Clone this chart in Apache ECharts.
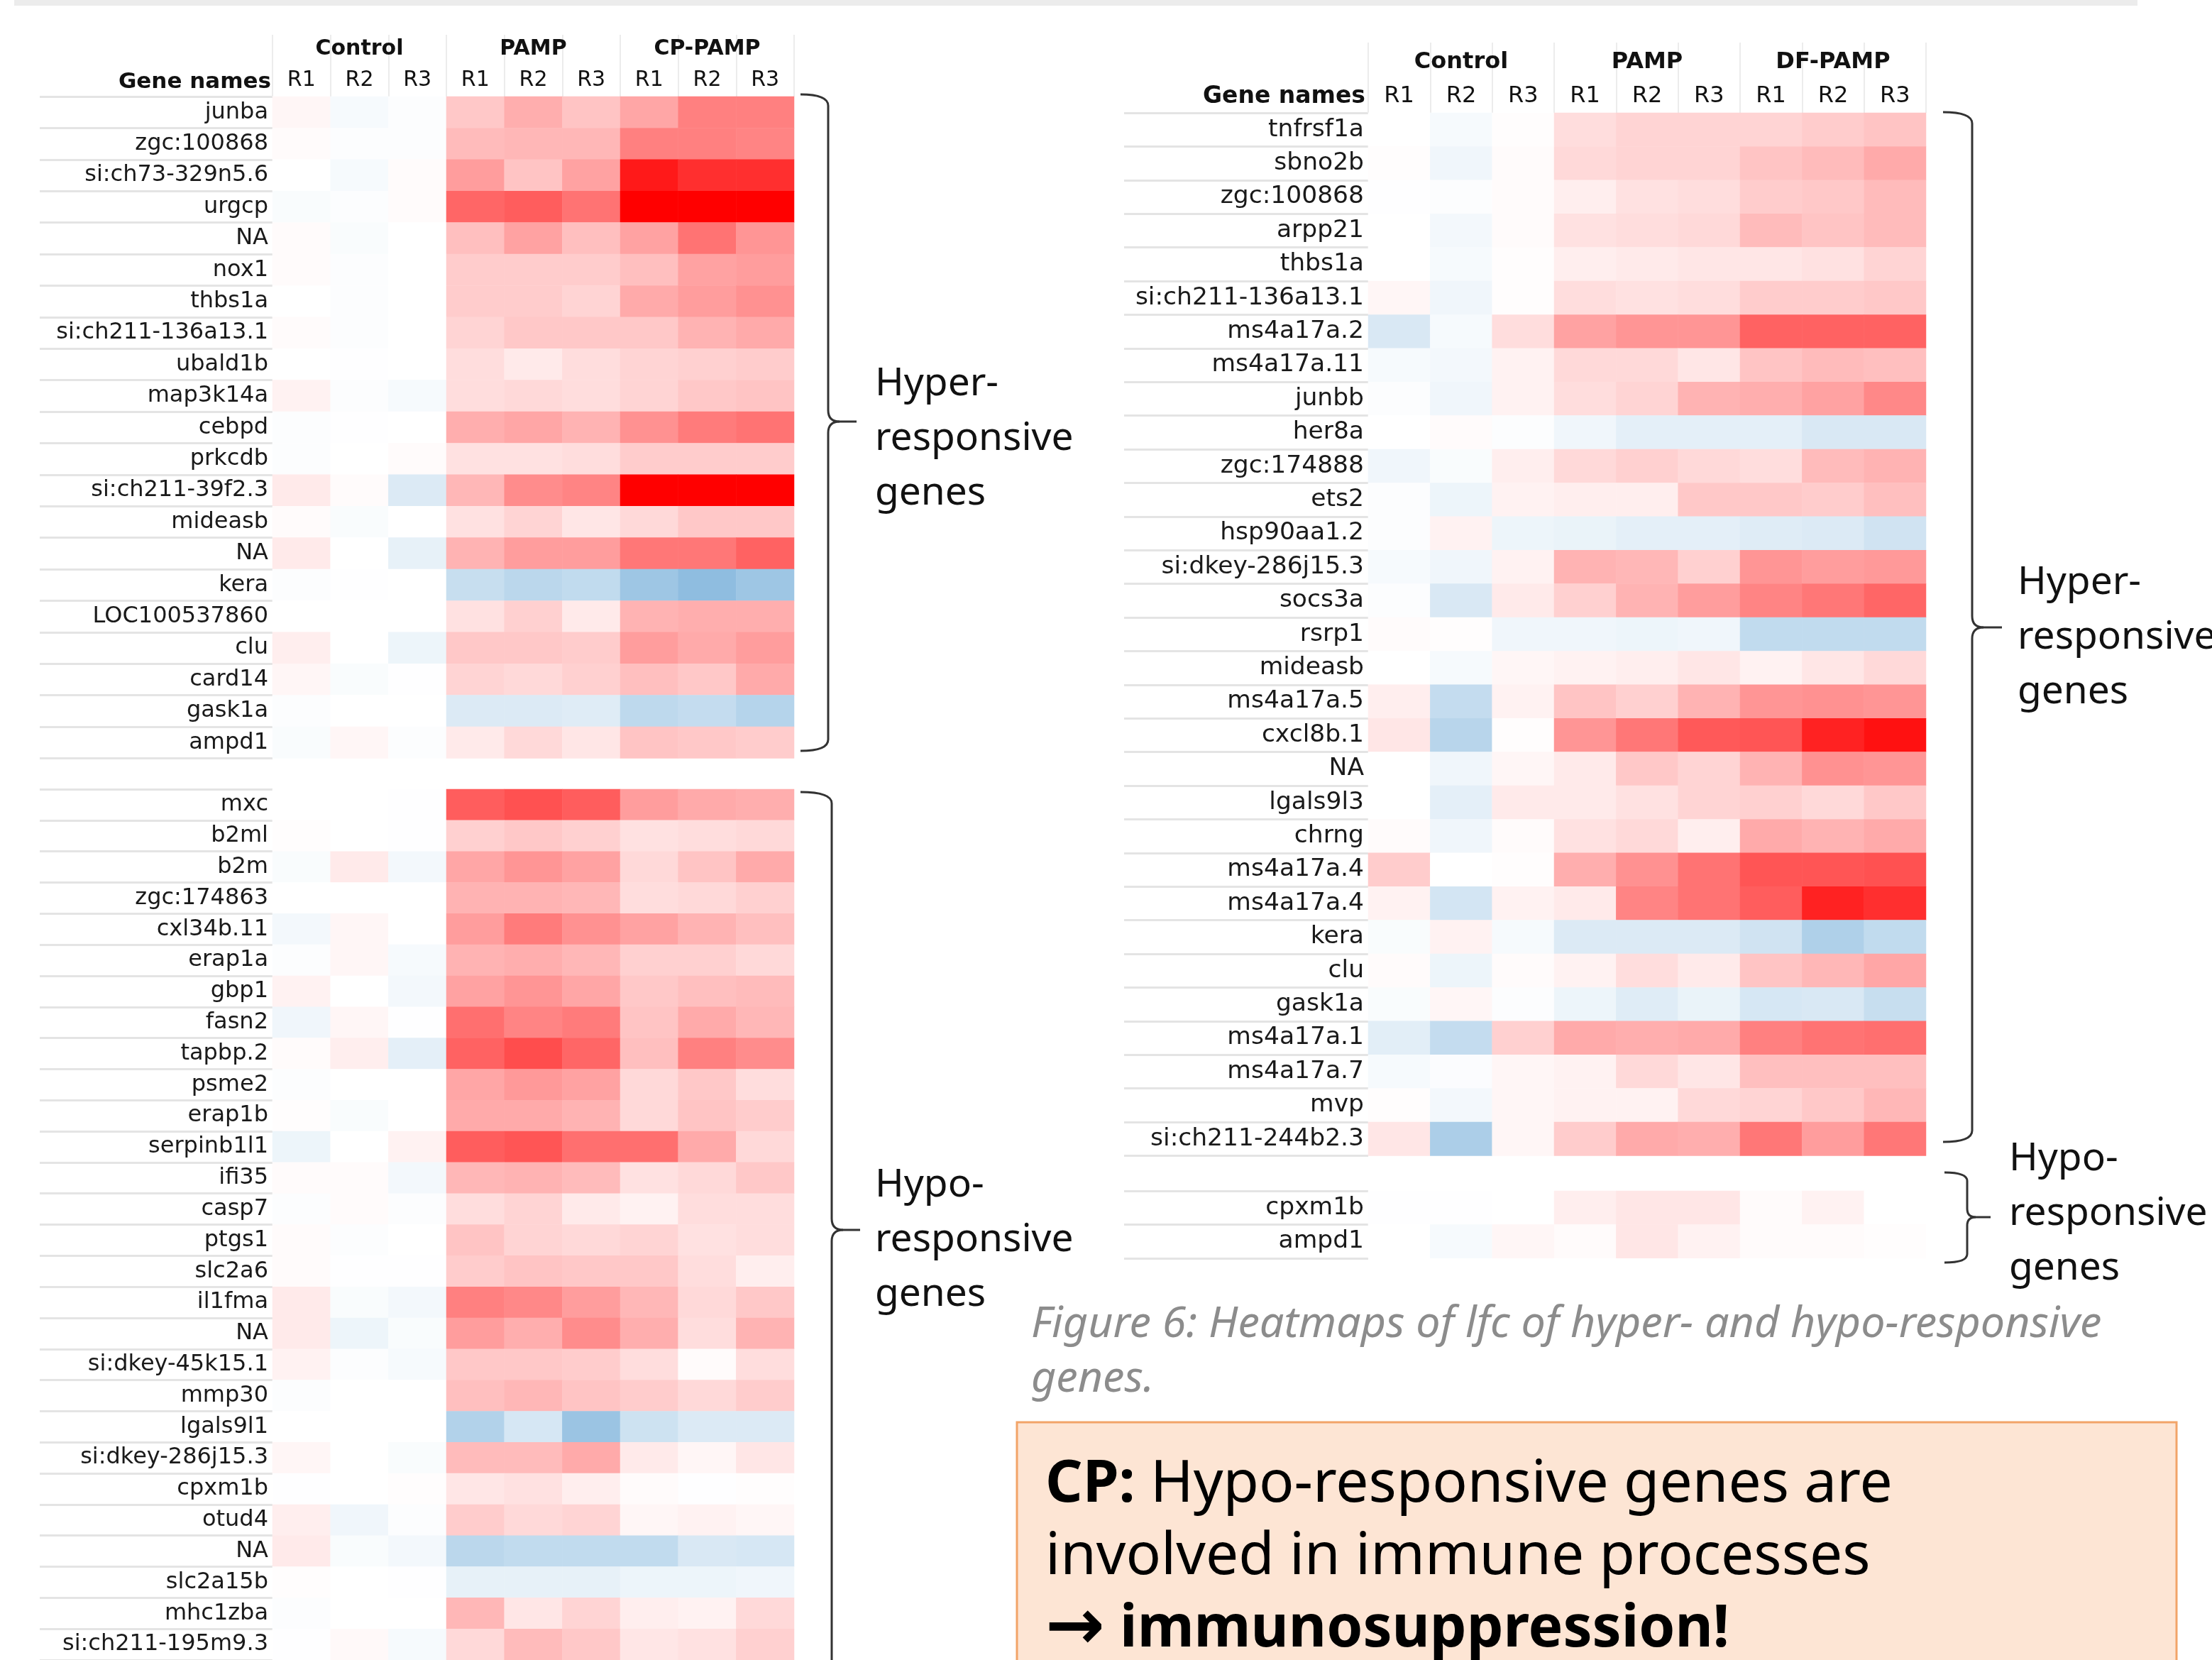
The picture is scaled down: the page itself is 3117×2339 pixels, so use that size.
<!DOCTYPE html>
<html>
<head>
<meta charset="utf-8">
<title>Heatmaps of lfc</title>
<script src="https://cdn.jsdelivr.net/npm/echarts@6/dist/echarts.min.js"></script>
<style>
html,body{margin:0;padding:0;background:#fff;}
#chart{width:3117px;height:2339px;}
</style>
</head>
<body>
<div id="chart"></div>
<script>
// column labels
const reps = ['R1','R2','R3','R1','R2','R3','R1','R2','R3'];
const groupsLeft = ['Control','PAMP','CP-PAMP'];
const groupsRight = ['Control','PAMP','DF-PAMP'];

// left heatmap (CP), hyper-responsive genes, lfc per column
const leftHyperGenes = ['junba','zgc:100868','si:ch73-329n5.6','urgcp','NA','nox1','thbs1a','si:ch211-136a13.1','ubald1b','map3k14a','cebpd','prkcdb','si:ch211-39f2.3','mideasb','NA','kera','LOC100537860','clu','card14','gask1a','ampd1'];
const leftHyperLfc = [
  [0.2,-0.3,-0.1, 1.3,1.9,1.4, 2.1,3.0,3.0],
  [0.1,-0.1,-0.1, 1.6,1.7,1.7, 3.0,3.0,2.9],
  [0.0,-0.3,0.1, 2.3,1.4,2.2, 5.4,4.9,4.9],
  [-0.2,-0.1,0.1, 3.6,3.8,3.3, 6.0,6.0,6.0],
  [0.1,-0.2,0.0, 1.5,2.2,1.5, 2.2,3.3,2.5],
  [0.1,-0.1,0.0, 1.2,1.2,1.2, 1.5,2.2,2.3],
  [0.0,-0.1,0.0, 1.2,1.2,1.0, 2.0,2.3,2.6],
  [0.1,-0.1,0.0, 1.0,1.3,1.3, 1.3,1.8,2.0],
  [0.0,-0.05,0.0, 0.8,0.5,0.8, 1.0,1.1,1.2],
  [0.3,-0.1,-0.3, 0.8,0.9,0.8, 1.0,1.3,1.4],
  [-0.1,-0.05,0.0, 1.9,2.1,1.8, 2.6,3.1,3.3],
  [-0.1,0.0,0.1, 0.7,0.7,0.8, 1.2,1.2,1.2],
  [0.5,0.1,-1.2, 1.7,2.7,2.9, 6.0,6.0,6.0],
  [0.1,-0.2,0.0, 0.7,1.0,0.6, 0.9,1.3,1.3],
  [0.5,0.0,-0.8, 1.8,2.3,2.3, 3.2,3.2,3.7],
  [-0.1,-0.05,0.0, -1.9,-2.3,-2.1, -3.3,-3.8,-3.3],
  [0.0,0.0,0.0, 0.7,1.1,0.5, 1.8,1.9,1.9],
  [0.4,0.0,-0.6, 1.3,1.3,1.2, 2.3,2.0,2.3],
  [0.2,-0.2,-0.05, 1.0,0.9,1.1, 1.5,1.3,2.0],
  [-0.1,0.0,0.0, -1.2,-1.2,-1.1, -2.2,-2.0,-2.5],
  [-0.2,0.2,-0.1, 0.5,0.9,0.6, 1.4,1.3,1.2]
];

// left heatmap (CP), hypo-responsive genes
const leftHypoGenes = ['mxc','b2ml','b2m','zgc:174863','cxl34b.11','erap1a','gbp1','fasn2','tapbp.2','psme2','erap1b','serpinb1l1','ifi35','casp7','ptgs1','slc2a6','il1fma','NA','si:dkey-45k15.1','mmp30','lgals9l1','si:dkey-286j15.3','cpxm1b','otud4','NA','slc2a15b','mhc1zba','si:ch211-195m9.3'];
const leftHypoLfc = [
  [0.0,0.0,-0.05, 3.8,4.1,3.8, 2.3,2.0,1.9],
  [0.05,0.0,-0.05, 1.1,1.3,1.1, 0.7,0.8,0.9],
  [-0.2,0.5,-0.4, 2.1,2.5,2.2, 0.9,1.4,2.0],
  [0.0,0.0,0.0, 1.8,1.8,1.7, 0.8,0.9,1.1],
  [-0.4,0.2,0.0, 2.3,3.1,2.6, 2.2,1.8,1.5],
  [-0.1,0.2,-0.3, 1.8,1.9,1.7, 1.1,1.1,0.9],
  [0.3,0.0,-0.4, 2.2,2.5,2.1, 1.3,1.5,1.6],
  [-0.5,0.2,-0.05, 3.4,2.9,3.1, 1.4,2.0,1.7],
  [0.1,0.4,-0.9, 3.7,4.2,3.6, 1.5,3.0,2.7],
  [-0.1,0.0,0.0, 2.1,2.4,2.2, 0.9,1.3,0.8],
  [0.05,-0.2,0.0, 2.0,2.0,1.8, 0.9,1.4,1.2],
  [-0.6,0.0,0.3, 3.8,4.0,3.4, 3.4,2.0,0.9],
  [0.1,0.1,-0.4, 1.7,1.8,1.6, 0.7,0.9,1.3],
  [-0.1,0.1,-0.1, 0.8,1.0,0.5, 0.3,0.8,0.8],
  [0.1,-0.1,0.0, 1.4,1.0,0.9, 1.0,0.7,0.8],
  [0.1,-0.05,-0.05, 1.2,1.4,1.3, 1.3,0.8,0.4],
  [0.5,-0.2,-0.4, 3.0,2.8,2.3, 1.7,0.9,1.3],
  [0.5,-0.6,-0.2, 2.3,1.9,2.7, 1.9,0.8,1.8],
  [0.3,-0.1,-0.3, 1.3,1.3,1.2, 0.8,0.1,0.8],
  [-0.1,0.0,0.0, 1.5,1.7,1.4, 1.2,0.9,1.2],
  [0.0,0.0,0.0, -2.6,-1.4,-3.4, -1.7,-1.2,-1.2],
  [0.2,0.0,-0.2, 1.6,1.6,2.0, 0.5,0.2,0.6],
  [-0.05,0.0,0.05, 0.6,0.7,0.4, 0.1,-0.05,0.05],
  [0.4,-0.5,-0.1, 1.2,0.9,1.0, 0.2,0.3,0.2],
  [0.5,-0.2,-0.4, -2.3,-2.1,-2.1, -2.1,-1.3,-1.4],
  [0.05,0.0,-0.05, -0.8,-0.8,-0.8, -0.6,-0.6,-0.5],
  [-0.1,0.0,0.0, 1.7,0.6,1.0, 0.4,0.3,0.9],
  [-0.05,0.15,-0.3, 0.9,1.6,1.3, 0.6,0.7,1.1]
];

// right heatmap (DF), hyper-responsive genes
const rightHyperGenes = ['tnfrsf1a','sbno2b','zgc:100868','arpp21','thbs1a','si:ch211-136a13.1','ms4a17a.2','ms4a17a.11','junbb','her8a','zgc:174888','ets2','hsp90aa1.2','si:dkey-286j15.3','socs3a','rsrp1','mideasb','ms4a17a.5','cxcl8b.1','NA','lgals9l3','chrng','ms4a17a.4','ms4a17a.4','kera','clu','gask1a','ms4a17a.1','ms4a17a.7','mvp','si:ch211-244b2.3'];
const rightHyperLfc = [
  [0.0,-0.3,0.05, 0.8,1.0,1.0, 1.0,1.2,1.4],
  [0.05,-0.5,0.1, 0.9,1.0,1.0, 1.4,1.6,2.0],
  [-0.05,-0.1,0.1, 0.4,0.7,0.8, 1.2,1.3,1.6],
  [0.0,-0.4,0.1, 0.7,0.8,0.9, 1.6,1.4,1.6],
  [0.0,-0.3,0.05, 0.4,0.5,0.6, 0.6,0.7,1.0],
  [0.2,-0.5,0.05, 0.8,0.7,0.8, 1.2,1.2,1.3],
  [-1.3,-0.3,0.8, 2.2,2.5,2.5, 3.7,3.7,3.7],
  [-0.3,-0.4,0.3, 0.9,0.9,0.6, 1.4,1.6,1.5],
  [-0.1,-0.5,0.3, 0.8,1.0,1.8, 1.9,2.2,2.8],
  [0.0,0.1,-0.1, -0.5,-0.9,-0.9, -0.9,-1.3,-1.3],
  [-0.5,-0.2,0.4, 0.9,1.1,0.9, 0.8,1.6,1.8],
  [-0.1,-0.6,0.3, 0.4,0.4,1.3, 1.3,1.2,1.5],
  [-0.1,0.3,-0.6, -0.7,-0.9,-0.9, -1.1,-1.2,-1.6],
  [-0.3,-0.5,0.3, 1.8,1.7,1.1, 2.5,2.3,2.4],
  [-0.1,-1.3,0.5, 1.1,1.8,2.3, 2.9,3.2,3.6],
  [0.1,0.05,-0.5, -0.5,-0.6,-0.5, -2.1,-2.1,-2.1],
  [0.0,-0.3,0.2, 0.3,0.4,0.6, 0.3,0.6,0.9],
  [0.4,-2.0,0.3, 1.4,1.1,1.8, 2.5,2.6,2.5],
  [0.6,-2.4,0.05, 2.5,3.2,3.9, 4.0,5.2,5.6],
  [0.0,-0.5,0.2, 0.5,1.3,1.0, 1.8,2.6,2.5],
  [0.0,-0.9,0.5, 0.5,0.7,1.0, 1.1,0.9,1.3],
  [0.1,-0.5,0.1, 0.7,0.9,0.4, 2.0,1.8,2.0],
  [1.2,0.0,0.05, 1.9,2.6,3.3, 4.0,4.0,4.1],
  [0.3,-1.5,0.3, 0.5,2.9,3.3, 3.8,5.2,4.9],
  [-0.2,0.3,-0.3, -1.2,-1.2,-1.2, -1.6,-2.7,-2.1],
  [0.1,-0.6,0.1, 0.3,0.8,0.5, 1.4,1.7,2.1],
  [-0.2,0.2,-0.1, -0.6,-1.1,-0.7, -1.4,-1.3,-1.9],
  [-1.0,-2.0,1.1, 2.0,1.9,2.0, 3.0,3.3,3.4],
  [-0.3,-0.15,0.2, 0.3,0.9,0.6, 1.5,1.5,1.5],
  [0.05,-0.4,0.2, 0.3,0.3,0.9, 1.0,1.3,1.7],
  [0.6,-2.8,0.2, 1.2,2.0,1.9, 3.2,2.3,3.2]
];

// right heatmap (DF), hypo-responsive genes
const rightHypoGenes = ['cpxm1b','ampd1'];
const rightHypoLfc = [
  [-0.05,-0.05,0.0, 0.4,0.6,0.6, 0.1,0.3,0.0],
  [0.0,-0.3,0.2, 0.1,0.6,0.3, 0.1,0.1,0.05]
];

// layout of the two panels (px)
const leftPanel = {labelLeft: 56, cellLeft: 384, cellWidth: 735, headTop: 49, hyperTop: 136, hyperRow: 44.4,
  hypoTop: 1112, hypoRow: 44.3, geneFont: 32, headFont: 30, repMargin: 8, groupOffset: 44};
const rightPanel = {labelLeft: 1584, cellLeft: 1928, cellWidth: 786, headTop: 60, hyperTop: 159, hyperRow: 47.4,
  hypoTop: 1678, hypoRow: 47.4, geneFont: 34.5, headFont: 32, repMargin: 7, groupOffset: 48};

const grid = [], xAxis = [], yAxis = [], series = [];

function cells(matrix) {
  const out = [];
  matrix.forEach((row, y) => row.forEach((v, x) => out.push([x, y, v])));
  return out;
}

function addBlock(P, top, rowH, genes, lfc, groups) {
  // grid with the row separator lines left of the cells
  grid.push({left: P.labelLeft, top: top, width: P.cellLeft - P.labelLeft, height: rowH * genes.length});
  xAxis.push({gridIndex: grid.length - 1, type: 'value', show: false});
  yAxis.push({gridIndex: grid.length - 1, type: 'category', data: genes, inverse: true,
    axisLine: {show: false}, axisTick: {show: false}, axisLabel: {show: false},
    splitLine: {show: true, interval: 0, lineStyle: {color: '#e4e4e4', width: 3}}});

  // cells
  grid.push({left: P.cellLeft, top: top, width: P.cellWidth, height: rowH * genes.length});
  const gi = grid.length - 1;
  const xi = xAxis.length;
  xAxis.push({gridIndex: gi, type: 'category', data: reps, position: 'top', show: !!groups,
    axisLine: {show: false}, axisTick: {show: false},
    axisLabel: {interval: 0, margin: P.repMargin, fontFamily: 'DejaVu Sans', fontSize: P.headFont, color: '#111'}});
  if (groups) {
    xAxis.push({gridIndex: gi, type: 'category', data: groups, position: 'top', offset: P.groupOffset,
      axisLine: {show: false}, axisTick: {show: false},
      axisLabel: {interval: 0, margin: P.repMargin, fontFamily: 'DejaVu Sans', fontWeight: 'bold', fontSize: P.headFont, color: '#111'}});
  }
  const yi = yAxis.length;
  yAxis.push({gridIndex: gi, type: 'category', data: genes, inverse: true,
    axisLine: {show: false}, axisTick: {show: false},
    axisLabel: {interval: 0, margin: 6, fontFamily: 'DejaVu Sans', fontSize: P.geneFont, color: '#1a1a1a'}});
  series.push({type: 'heatmap', xAxisIndex: xi, yAxisIndex: yi, data: cells(lfc), progressive: 0,
    itemStyle: {borderWidth: 0}, emphasis: {disabled: true}});
}

function addHeader(P) {
  grid.push({left: P.cellLeft, top: P.headTop, width: P.cellWidth, height: P.hyperTop - P.headTop});
  xAxis.push({gridIndex: grid.length - 1, type: 'category', data: reps,
    axisLine: {show: false}, axisTick: {show: false}, axisLabel: {show: false},
    splitLine: {show: true, interval: 0, lineStyle: {color: '#ececec', width: 2}}});
  yAxis.push({gridIndex: grid.length - 1, type: 'value', show: false});
}

addHeader(leftPanel);
addBlock(leftPanel, leftPanel.hyperTop, leftPanel.hyperRow, leftHyperGenes, leftHyperLfc, groupsLeft);
addBlock(leftPanel, leftPanel.hypoTop, leftPanel.hypoRow, leftHypoGenes, leftHypoLfc, null);
addHeader(rightPanel);
addBlock(rightPanel, rightPanel.hyperTop, rightPanel.hyperRow, rightHyperGenes, rightHyperLfc, groupsRight);
addBlock(rightPanel, rightPanel.hypoTop, rightPanel.hypoRow, rightHypoGenes, rightHypoLfc, null);

// curly brace made of curves and lines
function brace(xL, xV, xT, yTop, yMid, yBot, r) {
  const st = {stroke: '#333', lineWidth: 3, fill: 'none'};
  return [
    {type: 'bezierCurve', shape: {x1: xL, y1: yTop, cpx1: xV, cpy1: yTop, x2: xV, y2: yTop + r}, style: st},
    {type: 'line', shape: {x1: xV, y1: yTop + r, x2: xV, y2: yMid - r}, style: st},
    {type: 'bezierCurve', shape: {x1: xV, y1: yMid - r, cpx1: xV, cpy1: yMid, x2: xV + r, y2: yMid}, style: st},
    {type: 'line', shape: {x1: xV + r, y1: yMid, x2: xT, y2: yMid}, style: st},
    {type: 'bezierCurve', shape: {x1: xV + r, y1: yMid, cpx1: xV, cpy1: yMid, x2: xV, y2: yMid + r}, style: st},
    {type: 'line', shape: {x1: xV, y1: yMid + r, x2: xV, y2: yBot - r}, style: st},
    {type: 'bezierCurve', shape: {x1: xV, y1: yBot - r, cpx1: xV, cpy1: yBot, x2: xL, y2: yBot}, style: st}
  ];
}

function sideText(x, y, txt) {
  return {type: 'text', x: x, y: y, style: {text: txt, fontFamily: 'Noto Sans', fontSize: 55, lineHeight: 77,
    fill: '#111', textAlign: 'left', textVerticalAlign: 'middle'}};
}

const graphic = [
  {type: 'rect', shape: {x: 20, y: 0, width: 2992, height: 8}, style: {fill: '#ececec'}},
  {type: 'text', x: 382, y: 116, style: {text: 'Gene names', fontFamily: 'DejaVu Sans', fontWeight: 'bold',
    fontSize: 31, fill: '#111', textAlign: 'right', textVerticalAlign: 'middle'}},
  {type: 'text', x: 1924, y: 136, style: {text: 'Gene names', fontFamily: 'DejaVu Sans', fontWeight: 'bold',
    fontSize: 33, fill: '#111', textAlign: 'right', textVerticalAlign: 'middle'}},
  ...brace(1128, 1167, 1207, 133, 594, 1058, 16),
  ...brace(1128, 1172, 1212, 1116, 1733, 2420, 16),
  ...brace(2738, 2779, 2821, 158, 884, 1609, 16),
  ...brace(2740, 2772, 2805, 1652, 1715, 1779, 12),
  sideText(1233, 618, 'Hyper-\nresponsive\ngenes'),
  sideText(1233, 1747, 'Hypo-\nresponsive\ngenes'),
  sideText(2843, 898, 'Hyper-\nresponsive\ngenes'),
  sideText(2831, 1710, 'Hypo-\nresponsive\ngenes'),
  {type: 'text', x: 1453, y: 1905, style: {text: 'Figure 6: Heatmaps of lfc of hyper- and hypo-responsive\ngenes.',
    fontFamily: 'Noto Sans', fontStyle: 'italic', fontSize: 61, lineHeight: 77, fill: '#8c8c8c',
    textAlign: 'left', textVerticalAlign: 'middle'}},
  {type: 'rect', shape: {x: 1433, y: 2004, width: 1634, height: 420},
    style: {fill: '#fde5d4', stroke: '#f2a468', lineWidth: 3}},
  {type: 'text', x: 1473, y: 2195, style: {
    text: '{b|CP:} Hypo-responsive genes are\ninvolved in immune processes\n{a|→} {b|immunosuppression!}',
    fontFamily: 'Noto Sans', fontSize: 82, lineHeight: 102, fill: '#000',
    textAlign: 'left', textVerticalAlign: 'middle',
    rich: {
      b: {fontFamily: 'Noto Sans', fontWeight: 'bold', fontSize: 82, lineHeight: 102},
      a: {fontFamily: 'DejaVu Sans', fontWeight: 'bold', fontSize: 100, lineHeight: 102}
    }}}
];

const chart = echarts.init(document.getElementById('chart'));
chart.setOption({
  backgroundColor: '#fff',
  animation: false,
  grid: grid,
  xAxis: xAxis,
  yAxis: yAxis,
  visualMap: {
    type: 'continuous',
    show: false,
    min: -6,
    max: 6,
    seriesIndex: series.map((s, i) => i),
    inRange: {color: ['#4e97ce', '#ffffff', '#ff0000']}
  },
  series: series,
  graphic: graphic
});
</script>
</body>
</html>
